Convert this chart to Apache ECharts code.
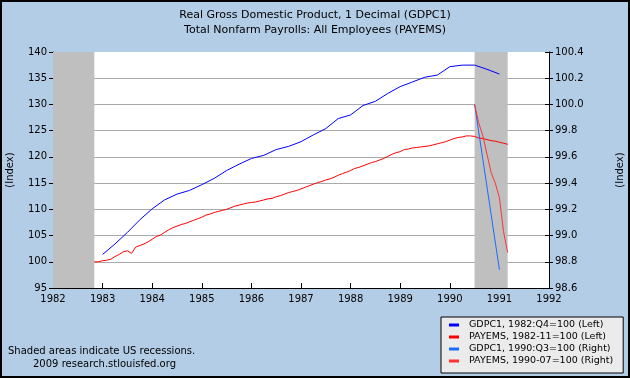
<!DOCTYPE html>
<html>
<head>
<meta charset="utf-8">
<script src="https://cdn.jsdelivr.net/npm/echarts@6/dist/echarts.min.js"></script>
<style>
html,body{margin:0;padding:0;background:#b4cde6;}
#c{width:630px;height:378px;}
</style>
</head>
<body>
<div id="c"></div>
<script>
// ---- data ----
const xTicks = [1982, 1983, 1984, 1985, 1986, 1987, 1988, 1989, 1990, 1991, 1992];
const leftTicks = [95, 100, 105, 110, 115, 120, 125, 130, 135, 140];
const rightTicks = [98.6, 98.8, 99.0, 99.2, 99.4, 99.6, 99.8, 100.0, 100.2, 100.4];

// GDPC1, 1982:Q4=100 (Left), quarterly from 1983 Q1
const gdpLeftStart = [1983, 1];
const gdpLeftValues = [101.4, 103.4, 105.6, 108.0, 110.1, 111.8, 112.9, 113.6,
  114.7, 115.9, 117.4, 118.6, 119.7, 120.3, 121.4, 122.0,
  122.9, 124.2, 125.4, 127.3, 128.0, 129.8, 130.6, 132.1,
  133.4, 134.3, 135.2, 135.6, 137.2, 137.5, 137.5, 136.7, 135.8];

// PAYEMS, 1982-11=100 (Left), monthly from 1982-11
const payLeftStart = [1982, 11];
const payLeftValues = [100.0, 100.0,
  100.2, 100.3, 100.5, 101.0, 101.4, 101.9, 102.1, 101.6, 102.8, 103.1, 103.4, 103.8,
  104.3, 104.8, 105.1, 105.6, 106.1, 106.5, 106.8, 107.1, 107.3, 107.6, 107.9, 108.2,
  108.5, 108.9, 109.1, 109.4, 109.6, 109.8, 110.0, 110.3, 110.6, 110.8, 111.0, 111.2,
  111.3, 111.4, 111.6, 111.8, 112.0, 112.1, 112.4, 112.6, 112.9, 113.2, 113.4, 113.6,
  113.9, 114.2, 114.5, 114.8, 115.1, 115.3, 115.6, 115.8, 116.1, 116.5, 116.8, 117.1,
  117.4, 117.8, 118.0, 118.3, 118.6, 118.9, 119.1, 119.4, 119.7, 120.1, 120.5, 120.8,
  121.0, 121.4, 121.5, 121.7, 121.8, 121.9, 122.0, 122.1, 122.3, 122.5, 122.7, 122.9,
  123.2, 123.5, 123.7, 123.8, 124.0, 124.0, 123.9, 123.6, 123.5, 123.3, 123.1, 123.0,
  122.8, 122.6, 122.4];

// GDPC1, 1990:Q3=100 (Right), quarterly from 1990 Q3
const gdpRightStart = [1990, 7];
const gdpRightValues = [100.0, 99.37, 98.74];

// PAYEMS, 1990-07=100 (Right), monthly from 1990-07
const payRightStart = [1990, 7];
const payRightValues = [100.0, 99.86, 99.76, 99.62, 99.48, 99.40, 99.29, 99.03, 98.87];

// recessions (start / end as [year, month])
const recessions = [[[1982, 1], [1982, 11]], [[1990, 7], [1991, 3]]];

const seriesNames = ['GDPC1, 1982:Q4=100 (Left)', 'PAYEMS, 1982-11=100 (Left)',
  'GDPC1, 1990:Q3=100 (Right)', 'PAYEMS, 1990-07=100 (Right)'];
const seriesColors = ['#0000ff', '#ff0000', '#1a6cff', '#ff3333'];

// ---- helpers ----
function decYear(y, m) { return y + (m - 1) / 12; }
function pairs(start, stepMonths, values) {
  return values.map((v, i) => {
    const mm = start[1] - 1 + i * stepMonths;
    return [decYear(start[0] + Math.floor(mm / 12), (mm % 12) + 1), v];
  });
}

const FONT = 'DejaVu Sans';
const chart = echarts.init(document.getElementById('c'));

const splitColors = leftTicks.map((t, i) => (i === 0 || i === leftTicks.length - 1) ? 'rgba(0,0,0,0)' : '#aaaaaa');

function mkSeries(i, axis, start, step, values, extra) {
  return Object.assign({
    name: seriesNames[i],
    type: 'line',
    yAxisIndex: axis,
    data: pairs(start, step, values),
    showSymbol: false,
    symbol: 'none',
    color: seriesColors[i],
    lineStyle: { width: 1, color: seriesColors[i] },
    z: 3,
    silent: true
  }, extra || {});
}

const option = {
  animation: false,
  backgroundColor: '#b4cde6',
  title: {
    text: 'Real Gross Domestic Product, 1 Decimal (GDPC1)\nTotal Nonfarm Payrolls: All Employees (PAYEMS)',
    left: 'center',
    top: 3,
    textStyle: { fontFamily: FONT, fontSize: 11, fontWeight: 'normal', color: '#000', lineHeight: 15 }
  },
  grid: { left: 53, right: 81, top: 52, bottom: 90, show: true, backgroundColor: '#ffffff', borderWidth: 0,
    containLabel: false, outerBoundsMode: 'none' },
  legend: {
    data: seriesNames,
    orient: 'vertical',
    left: 441, top: 317,
    backgroundColor: '#ebebeb',
    borderColor: '#000', borderWidth: 1,
    padding: [2, 10, 6, 8],
    itemWidth: 10, itemHeight: 3, itemGap: 0,
    icon: 'rect',
    selectedMode: false,
    textStyle: { fontFamily: FONT, fontSize: 9.5, color: '#000', lineHeight: 12, padding: [0, 0, 0, 5] }
  },
  xAxis: {
    type: 'value', min: xTicks[0], max: xTicks[xTicks.length - 1], interval: 1,
    axisLine: { show: true, lineStyle: { color: '#000', width: 1 } },
    axisTick: { show: true, inside: true, length: 5, lineStyle: { color: '#000' } },
    axisLabel: { color: '#000', fontFamily: FONT, fontSize: 10, margin: 6, showMinLabel: true, showMaxLabel: true,
      formatter: v => String(Math.round(v)) },
    splitLine: { show: false }
  },
  yAxis: [
    {
      type: 'value', position: 'left', min: leftTicks[0], max: leftTicks[leftTicks.length - 1], interval: 5,
      name: '(Index)', nameLocation: 'middle', nameRotate: 90, nameGap: 38,
      nameTextStyle: { fontFamily: FONT, fontSize: 10, color: '#000' },
      axisLine: { show: true, lineStyle: { color: '#000', width: 1 } },
      axisTick: { show: true, inside: false, length: 4, lineStyle: { color: '#000' } },
      axisLabel: { color: '#000', fontFamily: FONT, fontSize: 10, margin: 6, showMinLabel: true, showMaxLabel: true },
      splitLine: { show: true, lineStyle: { color: splitColors, width: 1 } }
    },
    {
      type: 'value', position: 'right', min: rightTicks[0], max: rightTicks[rightTicks.length - 1], interval: 0.2,
      name: '(Index)', nameLocation: 'middle', nameRotate: 90, nameGap: 66,
      nameTextStyle: { fontFamily: FONT, fontSize: 10, color: '#000' },
      axisLine: { show: true, lineStyle: { color: '#000', width: 1 } },
      axisTick: { show: true, inside: false, length: 4, lineStyle: { color: '#000' } },
      axisLabel: { color: '#000', fontFamily: FONT, fontSize: 10, margin: 6, showMinLabel: true, showMaxLabel: true,
        formatter: v => v.toFixed(1) },
      splitLine: { show: false }
    },
    {
      type: 'value', position: 'left', min: leftTicks[0], max: leftTicks[leftTicks.length - 1], interval: 5,
      axisLine: { show: false },
      axisTick: { show: true, inside: true, length: 4, lineStyle: { color: '#000' } },
      axisLabel: { show: false }, splitLine: { show: false }
    },
    {
      type: 'value', position: 'right', min: rightTicks[0], max: rightTicks[rightTicks.length - 1], interval: 0.2,
      axisLine: { show: false },
      axisTick: { show: true, inside: true, length: 4, lineStyle: { color: '#000' } },
      axisLabel: { show: false }, splitLine: { show: false }
    }
  ],
  series: [
    mkSeries(0, 0, gdpLeftStart, 3, gdpLeftValues, {
      markArea: {
        silent: true,
        itemStyle: { color: '#bfbfbf', borderWidth: 0 },
        data: recessions.map(r => [{ xAxis: decYear(r[0][0], r[0][1]) }, { xAxis: decYear(r[1][0], r[1][1]) }])
      }
    }),
    mkSeries(1, 0, payLeftStart, 1, payLeftValues),
    mkSeries(2, 1, gdpRightStart, 3, gdpRightValues),
    mkSeries(3, 1, payRightStart, 1, payRightValues)
  ],
  graphic: [
    { type: 'text', left: 8, top: 346, silent: true,
      style: { text: 'Shaded areas indicate US recessions.', font: '10px "DejaVu Sans"', fill: '#000' } },
    { type: 'text', left: 33, top: 359, silent: true,
      style: { text: '2009 research.stlouisfed.org', font: '10px "DejaVu Sans"', fill: '#000' } },
    { type: 'rect', silent: true, z: 100,
      shape: { x: 1, y: 1, width: 628, height: 376 },
      style: { fill: 'none', stroke: '#000', lineWidth: 2 } }
  ]
};
chart.setOption(option);
</script>
</body>
</html>
